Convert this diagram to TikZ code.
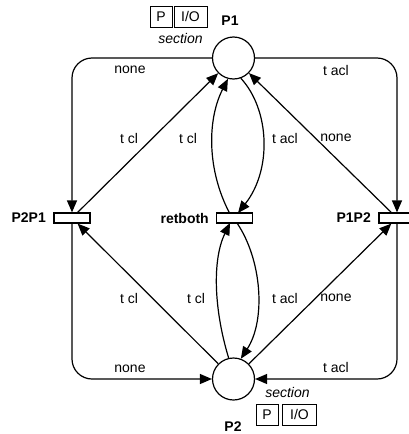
\documentclass[tikz,border=0pt]{standalone}
\usepackage{fontspec}
\setmainfont{Liberation Sans}
\usetikzlibrary{arrows.meta}
\begin{document}
\begin{tikzpicture}[x=1pt,y=-1pt,
  font=\fontsize{14}{16}\selectfont,
  place/.style={draw,circle,minimum size=42pt,inner sep=0pt,line width=1.2pt},
  trans/.style={draw,rectangle,minimum width=36pt,minimum height=10pt,inner sep=0pt,line width=1.2pt},
  arc/.style={line width=1.2pt,-{Triangle[length=12pt,width=10pt]}},
  lbl/.style={inner sep=0pt},
  nm/.style={font=\fontsize{14}{16}\selectfont\bfseries,inner sep=0pt},
  sect/.style={font=\fontsize{14}{16}\selectfont\itshape,inner sep=0pt},
  tag/.style={draw,line width=0.8pt,minimum height=21pt,inner sep=0pt},
]
\useasboundingbox (0,0) rectangle (408,434);

% places and transitions
\node[place] (P1) at (233.5,58) {};
\node[place] (P2) at (233.5,379) {};
\node[trans] (P2P1) at (72,218) {};
\node[trans] (retboth) at (234.5,218) {};
\node[trans] (P1P2) at (397,218) {};

% names
\node[nm] (lP1) at (230,21) {P1};
\node[nm] (lP2) at (233,427) {P2};
\node[nm,anchor=east] (lP2P1) at (46,218) {P2P1};
\node[nm,anchor=east] (lret) at (209,218) {retboth};
\node[nm,anchor=east] (lP1P2) at (371,218) {P1P2};

% section tags
\node[tag,minimum width=22pt] (tP1a) at (161,16.5) {P};
\node[tag,minimum width=33pt] (tP1b) at (190.5,16.5) {I/O};
\node[sect] (sP1) at (180.5,38) {section};
\node[tag,minimum width=22pt] (tP2a) at (267,414.5) {P};
\node[tag,minimum width=34pt] (tP2b) at (299.5,414.5) {I/O};
\node[sect] (sP2) at (287.5,392) {section};

% outer arcs
\draw[arc,rounded corners=20pt] (P1.west) -| (P2P1.north);
\draw[arc,rounded corners=20pt] (P2P1.south) |- (P2.west);
\draw[arc,rounded corners=20pt] (P1.east) -| (P1P2.north);
\draw[arc,rounded corners=20pt] (P1P2.south) |- (P2.east);

% straight arcs
\draw[arc] (P2P1) -- (P1);
\draw[arc] (P2) -- (P2P1);
\draw[arc] (P1P2) -- (P1);
\draw[arc] (P2) -- (P1P2);

% retboth curves
\coordinate (rt1) at (229.5,213);
\coordinate (rt2) at (238,213);
\coordinate (rb1) at (230,223);
\coordinate (rb2) at (237,223);
\draw[arc] (rt1) .. controls (207,170) and (207,120) .. (P1.255);
\draw[arc] (P1.290) .. controls (270,110) and (272,170) .. (rt2);
\draw[arc] (P2.103) .. controls (214,310) and (212,260) .. (rb1);
\draw[arc] (rb2) .. controls (262,260) and (266,320) .. (P2.70);

% labels
\node[lbl] at (130,70) {none};
\node[lbl] at (336,70) {t acl};
\node[lbl] at (129,138) {t cl};
\node[lbl] at (188,138) {t cl};
\node[lbl] at (285,138) {t acl};
\node[lbl] at (336,138) {none};
\node[lbl] at (129,298) {t cl};
\node[lbl] at (196,298) {t cl};
\node[lbl] at (285,298) {t acl};
\node[lbl] at (336,298) {none};
\node[lbl] at (130,369) {none};
\node[lbl] at (336,367) {t acl};
\end{tikzpicture}
\end{document}
